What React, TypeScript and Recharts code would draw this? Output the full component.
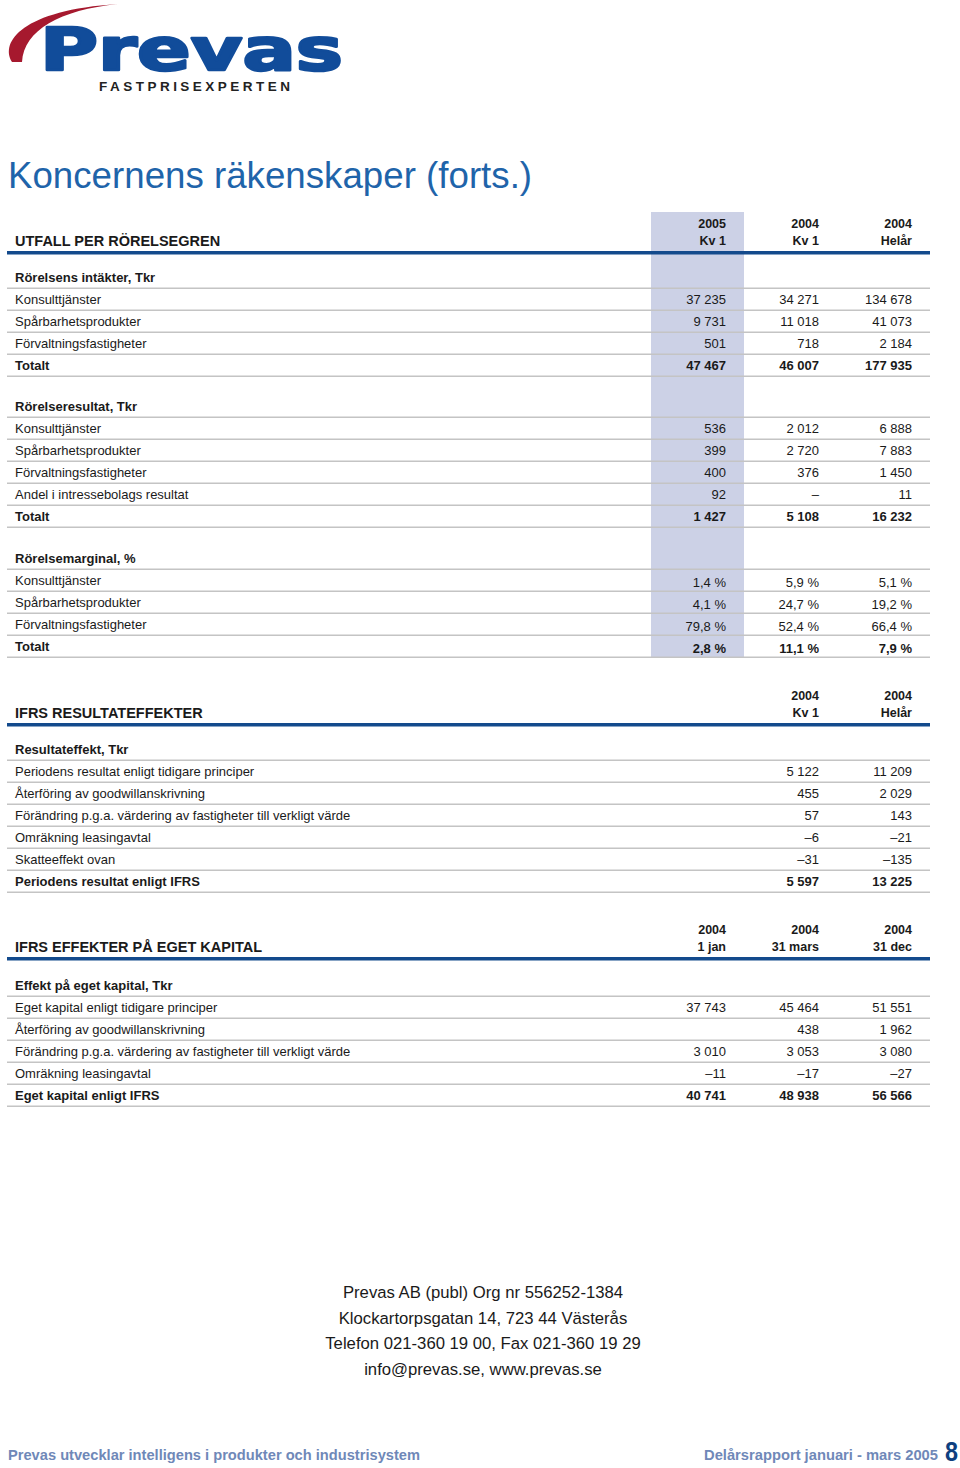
import React from "react";
import { Surface, Layer, Rectangle, Text } from "recharts";

// ---- data ----
const revLabels = ["Konsulttjänster", "Spårbarhetsprodukter", "Förvaltningsfastigheter", "Totalt"];
const rev2005Q1 = [37235, 9731, 501, 47467];
const rev2004Q1 = [34271, 11018, 718, 46007];
const rev2004Year = [134678, 41073, 2184, 177935];

const resLabels = [
  "Konsulttjänster",
  "Spårbarhetsprodukter",
  "Förvaltningsfastigheter",
  "Andel i intressebolags resultat",
  "Totalt",
];
const res2005Q1 = [536, 399, 400, 92, 1427];
const res2004Q1 = [2012, 2720, 376, null, 5108];
const res2004Year = [6888, 7883, 1450, 11, 16232];

const marLabels = ["Konsulttjänster", "Spårbarhetsprodukter", "Förvaltningsfastigheter", "Totalt"];
const mar2005Q1 = [1.4, 4.1, 79.8, 2.8];
const mar2004Q1 = [5.9, 24.7, 52.4, 11.1];
const mar2004Year = [5.1, 19.2, 66.4, 7.9];

const ifrsLabels = [
  "Periodens resultat enligt tidigare principer",
  "Återföring av goodwillanskrivning",
  "Förändring p.g.a. värdering av fastigheter till verkligt värde",
  "Omräkning leasingavtal",
  "Skatteeffekt ovan",
  "Periodens resultat enligt IFRS",
];
const ifrs2004Q1 = [5122, 455, 57, -6, -31, 5597];
const ifrs2004Year = [11209, 2029, 143, -21, -135, 13225];

const eqLabels = [
  "Eget kapital enligt tidigare principer",
  "Återföring av goodwillanskrivning",
  "Förändring p.g.a. värdering av fastigheter till verkligt värde",
  "Omräkning leasingavtal",
  "Eget kapital enligt IFRS",
];
const eqJan = [37743, undefined, 3010, -11, 40741];
const eqMar = [45464, 438, 3053, -17, 48938];
const eqDec = [51551, 1962, 3080, -27, 56566];

const addressLines = [
  "Prevas AB (publ) Org nr 556252-1384",
  "Klockartorpsgatan 14, 723 44 Västerås",
  "Telefon 021-360 19 00, Fax 021-360 19 29",
  "info@prevas.se, www.prevas.se",
];

// ---- helpers ----
const FONT = "'Liberation Sans', Arial, Helvetica, sans-serif";
const LINE = "#c4c4c4";
const BLUE_RULE = "#134a8c";
const SHADE = "#ccd1e6";
const TEXT = "#1a1a1a";
const FOOT = "#6f88b8";

const fmtNum = (v) => {
  if (v === undefined) return "";
  if (v === null) return "–";
  const s = String(Math.abs(v)).replace(/\B(?=(\d{3})+(?!\d))/g, " ");
  return v < 0 ? "–" + s : s;
};
const fmtPct = (v) => v.toFixed(1).replace(".", ",") + " %";

const COL = [726, 819, 912];
const LEFT = 7;
const RIGHT = 930;
const ROW = 22;
const FS = 13;

function Sep({ y }) {
  return <Rectangle x={LEFT} y={y} width={RIGHT - LEFT} height={1.5} fill={LINE} />;
}

function TableHeader({ title, y, cols, heads }) {
  // y = baseline of second header line
  return (
    <Layer>
      <Text x={15} y={y + 1} fontFamily={FONT} fontSize={14.5} fontWeight="bold" fill={TEXT}>
        {title}
      </Text>
      {heads.map((h, i) => (
        <Layer key={i}>
          <Text x={cols[i]} y={y - 17} textAnchor="end" fontFamily={FONT} fontSize={12.5} fontWeight="bold" fill={TEXT}>
            {h[0]}
          </Text>
          <Text x={cols[i]} y={y} textAnchor="end" fontFamily={FONT} fontSize={12.5} fontWeight="bold" fill={TEXT}>
            {h[1]}
          </Text>
        </Layer>
      ))}
      <Rectangle x={LEFT} y={y + 6} width={RIGHT - LEFT} height={3.5} fill={BLUE_RULE} />
    </Layer>
  );
}

function Section({ top, title, labels, cols, series, fmt, valueShift = 0 }) {
  // top = center y of section title row
  const rows = labels.length;
  return (
    <Layer>
      <Text x={15} y={top + 4.5} fontFamily={FONT} fontSize={FS} fontWeight="bold" fill={TEXT}>
        {title}
      </Text>
      <Sep y={top + 10.5} />
      {labels.map((lab, r) => {
        const cy = top + ROW * (r + 1);
        const bold = r === rows - 1;
        return (
          <Layer key={r}>
            <Text x={15} y={cy + 4.5} fontFamily={FONT} fontSize={FS} fontWeight={bold ? "bold" : "normal"} fill={TEXT}>
              {lab}
            </Text>
            {series.map((s, c) => (
              <Text
                key={c}
                x={cols[c]}
                y={cy + 4.5 + valueShift}
                textAnchor="end"
                fontFamily={FONT}
                fontSize={FS}
                fontWeight={bold ? "bold" : "normal"}
                fill={TEXT}
              >
                {fmt(s[r])}
              </Text>
            ))}
            <Sep y={cy + 10.5} />
          </Layer>
        );
      })}
    </Layer>
  );
}

function Logo() {
  return (
    <Layer>
      <path d="M 12 62 C 0 42, 22 10, 118 4 C 60 10, 24 30, 22 62 Z" fill="#a6192e" />
      <text
        x={40}
        y={70}
        fontFamily="'DejaVu Sans', 'Liberation Sans', sans-serif"
        fontWeight="bold"
        fontSize={58}
        fill="#114c9a"
        stroke="#114c9a"
        strokeWidth={2.5}
        strokeLinejoin="round"
        textLength={303}
        lengthAdjust="spacingAndGlyphs"
      >
        Prevas
      </text>
      <text
        x={99}
        y={91}
        fontFamily={FONT}
        fontWeight="bold"
        fontSize={13.5}
        fill="#222"
        textLength={191}
        lengthAdjust="spacing"
      >
        FASTPRISEXPERTEN
      </text>
    </Layer>
  );
}

export default function App() {
  return (
    <div style={{ position: "absolute", left: 0, top: 0, width: 960, height: 1468, background: "#fff" }}>
      <Surface width={960} height={1468}>
        <Logo />
        <Text x={8} y={188} fontFamily={FONT} fontSize={36.7} fill="#1f64aa">
          Koncernens räkenskaper (forts.)
        </Text>

        {/* Table 1 */}
        <Rectangle x={651} y={212} width={93} height={445} fill={SHADE} />
        <TableHeader
          title="UTFALL PER RÖRELSEGREN"
          y={245}
          cols={COL}
          heads={[["2005", "Kv 1"], ["2004", "Kv 1"], ["2004", "Helår"]]}
        />
        <Section top={277} title="Rörelsens intäkter, Tkr" labels={revLabels} cols={COL} series={[rev2005Q1, rev2004Q1, rev2004Year]} fmt={fmtNum} />
        <Section top={406} title="Rörelseresultat, Tkr" labels={resLabels} cols={COL} series={[res2005Q1, res2004Q1, res2004Year]} fmt={fmtNum} />
        <Section top={558} title="Rörelsemarginal, %" labels={marLabels} cols={COL} series={[mar2005Q1, mar2004Q1, mar2004Year]} fmt={fmtPct} valueShift={2} />

        {/* Table 2 */}
        <TableHeader
          title="IFRS RESULTATEFFEKTER"
          y={717}
          cols={[COL[1], COL[2]]}
          heads={[["2004", "Kv 1"], ["2004", "Helår"]]}
        />
        <Section top={749} title="Resultateffekt, Tkr" labels={ifrsLabels} cols={[COL[1], COL[2]]} series={[ifrs2004Q1, ifrs2004Year]} fmt={fmtNum} />

        {/* Table 3 */}
        <TableHeader
          title="IFRS EFFEKTER PÅ EGET KAPITAL"
          y={951}
          cols={COL}
          heads={[["2004", "1 jan"], ["2004", "31 mars"], ["2004", "31 dec"]]}
        />
        <Section top={985} title="Effekt på eget kapital, Tkr" labels={eqLabels} cols={COL} series={[eqJan, eqMar, eqDec]} fmt={fmtNum} />

        {/* address */}
        {addressLines.map((l, i) => (
          <Text key={i} x={483} y={1298 + i * 25.7} textAnchor="middle" fontFamily={FONT} fontSize={16.7} fill={TEXT}>
            {l}
          </Text>
        ))}

        {/* footer */}
        <text x={8} y={1460} fontFamily={FONT} fontWeight="bold" fontSize={15} fill={FOOT} textLength={412} lengthAdjust="spacingAndGlyphs">
          Prevas utvecklar intelligens i produkter och industrisystem
        </text>
        <text x={704} y={1460} fontFamily={FONT} fontWeight="bold" fontSize={15} fill={FOOT} textLength={234} lengthAdjust="spacingAndGlyphs">
          Delårsrapport januari - mars 2005
        </text>
        <text x={945} y={1461} fontFamily={FONT} fontWeight="bold" fontSize={27} fill="#0f3f80" textLength={13} lengthAdjust="spacingAndGlyphs">
          8
        </text>
      </Surface>
    </div>
  );
}
